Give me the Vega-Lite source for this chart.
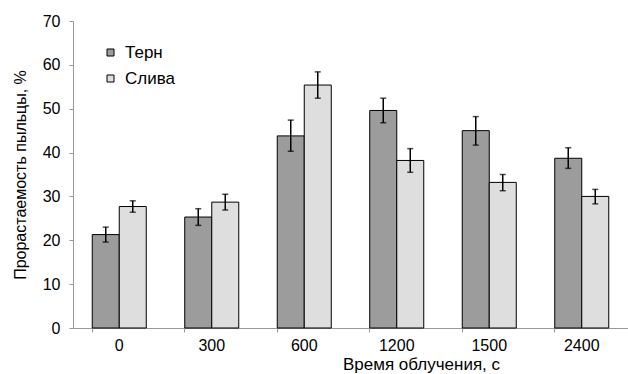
{
  "$schema": "https://vega.github.io/schema/vega-lite/v6.json",
  "width": 555,
  "height": 307,
  "autosize": "none",
  "padding": {"left": 73, "top": 21, "right": 0, "bottom": 46},
  "background": "white",
  "config": {
    "font": "Liberation Sans",
    "view": {"stroke": null}
  },
  "data": {
    "values": [
      {"t": "0", "s": "Терн", "v": 21.3, "lo": 19.6, "hi": 23.0},
      {"t": "0", "s": "Слива", "v": 27.7, "lo": 26.4, "hi": 29.0},
      {"t": "300", "s": "Терн", "v": 25.3, "lo": 23.4, "hi": 27.2},
      {"t": "300", "s": "Слива", "v": 28.7, "lo": 26.9, "hi": 30.5},
      {"t": "600", "s": "Терн", "v": 43.8, "lo": 40.3, "hi": 47.4},
      {"t": "600", "s": "Слива", "v": 55.4, "lo": 52.4, "hi": 58.4},
      {"t": "1200", "s": "Терн", "v": 49.6, "lo": 46.8, "hi": 52.4},
      {"t": "1200", "s": "Слива", "v": 38.2, "lo": 35.5, "hi": 40.9},
      {"t": "1500", "s": "Терн", "v": 45.0, "lo": 41.7, "hi": 48.2},
      {"t": "1500", "s": "Слива", "v": 33.2, "lo": 31.3, "hi": 35.0},
      {"t": "2400", "s": "Терн", "v": 38.7, "lo": 36.4, "hi": 41.1},
      {"t": "2400", "s": "Слива", "v": 30.0, "lo": 28.3, "hi": 31.6}
    ]
  },
  "encoding": {
    "x": {
      "field": "t",
      "type": "nominal",
      "sort": ["0", "300", "600", "1200", "1500", "2400"],
      "scale": {"paddingInner": 0.416, "paddingOuter": 0.208},
      "axis": {
        "title": "Время облучения, с",
        "titleFont": "Liberation Sans",
        "titleFontSize": 17,
        "titleFontWeight": "normal",
        "titleColor": "black",
        "titleX": 348,
        "titleY": 41,
        "titleBaseline": "alphabetic",
        "labelAngle": 0,
        "labelFontSize": 16,
        "labelColor": "black",
        "labelPadding": 5,
        "bandPosition": 0,
        "tickSize": 4,
        "domainColor": "#999999",
        "tickColor": "#999999"
      }
    },
    "xOffset": {
      "field": "s",
      "type": "nominal",
      "sort": ["Терн", "Слива"],
      "scale": {"paddingInner": 0, "paddingOuter": 0}
    }
  },
  "layer": [
    {
      "mark": {"type": "bar", "stroke": "black", "strokeWidth": 1},
      "encoding": {
        "y": {
          "field": "v",
          "type": "quantitative",
          "scale": {"domain": [0, 70], "nice": false},
          "axis": {
            "title": "Прорастаемость пыльцы, %",
            "titleFont": "Liberation Sans",
            "titleFontSize": 16,
            "titleFontWeight": "normal",
            "titleColor": "black",
            "titlePadding": 14,
            "values": [0, 10, 20, 30, 40, 50, 60, 70],
            "grid": false,
            "labelFontSize": 16,
            "labelColor": "black",
            "labelPadding": 9,
            "tickSize": 4,
            "domainColor": "#999999",
            "tickColor": "#999999"
          }
        },
        "fill": {
          "field": "s",
          "type": "nominal",
          "sort": ["Терн", "Слива"],
          "scale": {"domain": ["Терн", "Слива"], "range": ["#9c9c9c", "#dedede"]},
          "legend": {
            "title": null,
            "orient": "none",
            "legendX": 29,
            "legendY": 23,
            "symbolType": "square",
            "symbolSize": 49,
            "symbolStrokeColor": "black",
            "symbolStrokeWidth": 1,
            "labelFontSize": 17,
            "labelColor": "black",
            "labelOffset": 6,
            "rowPadding": 8
          }
        }
      }
    },
    {
      "mark": {"type": "rule", "color": "black", "strokeWidth": 1.5},
      "encoding": {
        "y": {"field": "lo", "type": "quantitative"},
        "y2": {"field": "hi"}
      }
    },
    {
      "mark": {"type": "tick", "color": "black", "orient": "horizontal", "size": 6, "thickness": 1.5},
      "encoding": {
        "y": {"field": "lo", "type": "quantitative"}
      }
    },
    {
      "mark": {"type": "tick", "color": "black", "orient": "horizontal", "size": 6, "thickness": 1.5},
      "encoding": {
        "y": {"field": "hi", "type": "quantitative"}
      }
    }
  ]
}
